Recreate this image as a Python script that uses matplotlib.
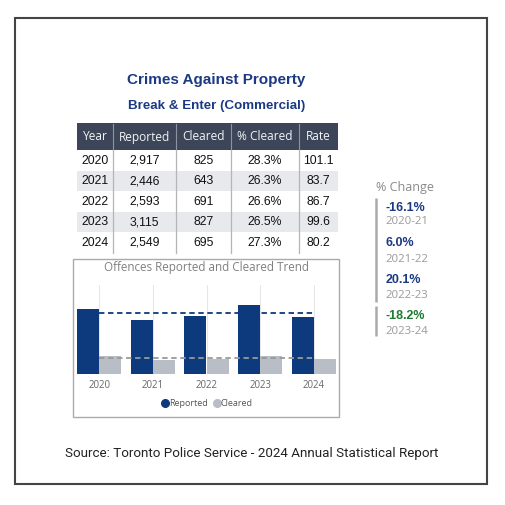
import matplotlib
matplotlib.use("Agg")
import matplotlib.pyplot as plt
from matplotlib.patches import Rectangle
from matplotlib.lines import Line2D
import numpy as np

# ---------------- data ----------------
years = ["2020", "2021", "2022", "2023", "2024"]
reported = [2917, 2446, 2593, 3115, 2549]
cleared = [825, 643, 691, 827, 695]
pct_cleared = ["28.3%", "26.3%", "26.6%", "26.5%", "27.3%"]
rate = ["101.1", "83.7", "86.7", "99.6", "80.2"]
headers = ["Year", "Reported", "Cleared", "% Cleared", "Rate"]
change_vals = ["-16.1%", "6.0%", "20.1%", "-18.2%"]
change_periods = ["2020-21", "2021-22", "2022-23", "2023-24"]

title = "Crimes Against Property"
subtitle = "Break & Enter (Commercial)"
chart_title = "Offences Reported and Cleared Trend"
source = "Source: Toronto Police Service - 2024 Annual Statistical Report"

# ---------------- styles ----------------
NAVY = "#1c3a84"
BAR_NAVY = "#0d3a7c"
BAR_GRAY = "#b8bdc6"
HEADER_BG = "#3c4658"
SHADE = "#e8e9ec"
GREEN = "#1f7a32"
BODY_FONT = ["Liberation Sans", "DejaVu Sans"]
UI_FONT = ["Open Sans", "DejaVu Sans"]

W = H = 505
fig = plt.figure(figsize=(W / 100, H / 100), dpi=100)
fig.patch.set_facecolor("white")

# overlay axes in pixel coordinates (y downward)
lay = fig.add_axes([0, 0, 1, 1])
lay.set_xlim(0, W)
lay.set_ylim(H, 0)
lay.axis("off")

# outer border
lay.add_patch(Rectangle((15, 18), 472, 466, fill=False, ec="#444444", lw=1.5))

# titles
lay.text(216.5, 80, title, ha="center", va="center", fontsize=11,
         fontweight="bold", color=NAVY, family=BODY_FONT)
lay.text(217, 106, subtitle, ha="center", va="center", fontsize=9.6,
         fontweight="bold", color=NAVY, family=BODY_FONT)

# table
col_edges = [77, 113, 176, 231, 299, 338]
head_top, head_bot = 123, 150
row_h = 20.5
lay.add_patch(Rectangle((col_edges[0], head_top), col_edges[-1] - col_edges[0],
                        head_bot - head_top, fc=HEADER_BG, ec="none"))
for i, h in enumerate(headers):
    cx = (col_edges[i] + col_edges[i + 1]) / 2
    lay.text(cx, (head_top + head_bot) / 2 + 0.5, h, ha="center", va="center",
             fontsize=8.6, color="#f2f3f5", family=UI_FONT)
for xe in col_edges[1:-1]:
    lay.plot([xe, xe], [head_top + 1, head_bot], color="#8d93a0", lw=0.8)

rows = list(zip(years, [f"{v:,}" for v in reported], [str(v) for v in cleared],
                pct_cleared, rate))
for r, row in enumerate(rows):
    top = head_bot + r * row_h
    if r % 2 == 1:
        lay.add_patch(Rectangle((col_edges[0], top), col_edges[-1] - col_edges[0],
                                row_h, fc=SHADE, ec="none"))
    for i, val in enumerate(row):
        cx = (col_edges[i] + col_edges[i + 1]) / 2
        lay.text(cx, top + row_h / 2 + 0.5, val, ha="center", va="center",
                 fontsize=8.8, color="#111111", family=BODY_FONT)
body_bot = head_bot + len(rows) * row_h
for xe in col_edges[1:-1]:
    lay.plot([xe, xe], [head_bot, body_bot], color="#b5b5b5", lw=0.9)

# chart box
lay.add_patch(Rectangle((73, 259), 266, 158, fill=False, ec="#aaaaaa", lw=1.0))
lay.text(207, 268, chart_title, ha="center", va="center", fontsize=8.4,
         color="#808080", family=UI_FONT)

# % change panel
lay.text(376, 187, "% Change", ha="left", va="center", fontsize=9,
         color="#8a8a8a", family=UI_FONT)
lay.plot([376, 376], [198, 302], color="#aaaaaa", lw=1.8, solid_capstyle="butt")
lay.plot([376, 376], [306, 336], color="#aaaaaa", lw=1.8, solid_capstyle="butt")
val_y = [208, 243, 280, 316]
per_y = [222, 259, 296, 331]
for v, p, vy, py in zip(change_vals, change_periods, val_y, per_y):
    col = GREEN if p == "2023-24" else NAVY
    lay.text(385.5, vy, v, ha="left", va="center", fontsize=9, fontweight="bold",
             color=col, family=BODY_FONT)
    lay.text(385.5, py, p, ha="left", va="center", fontsize=8.2,
             color="#9a9a9a", family=UI_FONT)

# source
lay.text(252, 454, source, ha="center", va="center", fontsize=9.6,
         color="#222222", family="Roboto")

# ---------------- bar chart ----------------
x0, x1, y0, y1 = 76, 337, 285, 374
ax = fig.add_axes([x0 / W, 1 - y1 / H, (x1 - x0) / W, (y1 - y0) / H])
ax.set_facecolor("none")
x = np.arange(len(years))
bw = 0.41
ax.bar(x - bw / 2, reported, width=bw, color=BAR_NAVY, zorder=3)
ax.bar(x + bw / 2, cleared, width=bw, color=BAR_GRAY, zorder=3)
ax.plot([x[0], x[-1]], [np.mean(reported)] * 2, ls=(0, (3, 2)), color=BAR_NAVY,
        lw=1.3, zorder=4)
ax.plot([x[0], x[-1]], [np.mean(cleared)] * 2, ls=(0, (3, 2)), color="#999999",
        lw=1.3, zorder=4)
for xi in x:
    ax.axvline(xi, color="#e6e6e6", lw=0.8, zorder=1)
ax.set_xlim(-0.43, len(years) - 1 + 0.43)
ax.set_ylim(0, 4000)
ax.set_xticks(x)
ax.set_xticklabels(years, fontsize=6.9, color="#666666", family=UI_FONT)
ax.tick_params(axis="x", length=0, pad=4)
ax.set_yticks([])
for s in ax.spines.values():
    s.set_visible(False)
handles = [Line2D([], [], marker="o", ls="none", color=BAR_NAVY, markersize=5.5),
           Line2D([], [], marker="o", ls="none", color=BAR_GRAY, markersize=5.5)]
leg = ax.legend(handles, ["Reported", "Cleared"], loc="center",
                bbox_to_anchor=(0.5, (y1 - 404) / (y1 - y0)), ncol=2, frameon=False,
                handletextpad=-0.1, columnspacing=0.5, handlelength=1.0,
                prop={"family": UI_FONT, "size": 6.5})
for t in leg.get_texts():
    t.set_color("#555555")

fig.savefig("out.png", dpi=100, facecolor="white")
